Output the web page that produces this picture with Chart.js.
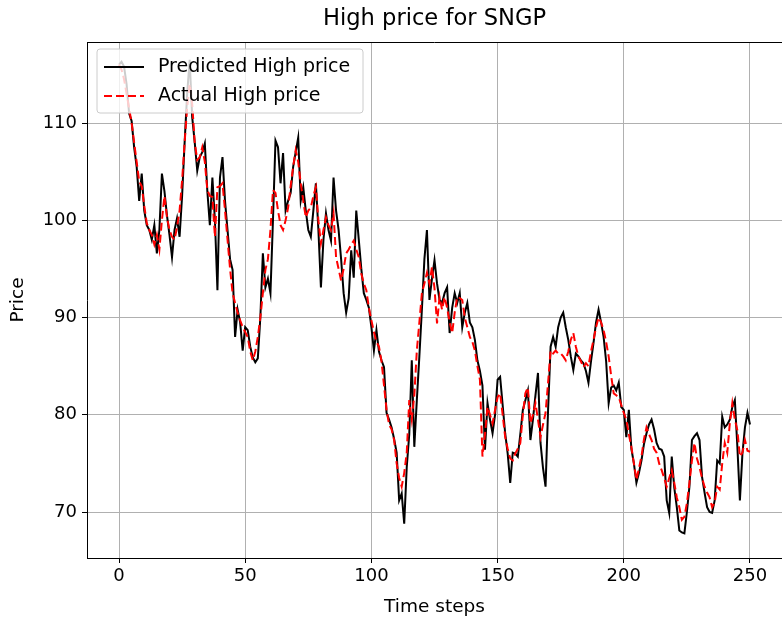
<!DOCTYPE html>
<html>
<head>
<meta charset="utf-8">
<script src="https://cdn.jsdelivr.net/npm/chart.js@4.4.1/dist/chart.umd.min.js"></script>
<style>
  html, body { margin: 0; padding: 0; background: #fff; }
  #wrap { width: 782px; height: 620px; position: relative; }
</style>
</head>
<body>
<div id="wrap"><canvas id="chart"></canvas></div>
<script>
// ===== DATA =====
const predictedHigh = [
  116.0, 116.3, 115.8, 114.0, 111.0, 110.2, 107.5, 105.5, 102.0, 104.8,
  101.0, 99.5, 99.0, 98.0, 99.5, 96.6, 99.0, 104.8, 103.0, 100.5,
  98.5, 96.2, 99.0, 100.2, 98.3, 102.5, 108.0, 113.0, 116.5, 110.6,
  108.0, 105.1, 106.5, 107.0, 107.9, 103.0, 99.5, 104.4, 100.0, 92.8,
  104.4, 106.5, 102.0, 99.0, 96.0, 94.9, 88.0, 90.8, 89.5, 86.6,
  89.0, 88.7, 87.0, 85.9, 85.4, 85.8, 90.0, 96.6, 93.1, 94.0,
  92.5, 100.0, 108.2, 107.5, 103.8, 106.9, 101.0, 102.0, 102.8, 105.5,
  107.0, 108.5, 102.0, 103.4, 101.0, 99.0, 98.3, 101.0, 103.8, 99.0,
  93.1, 98.0, 100.7, 99.0, 97.9, 104.4, 101.0, 99.0, 96.0, 92.5,
  90.5, 92.0, 96.9, 94.1, 101.0, 98.0, 95.0, 92.5, 91.8, 91.0,
  89.0, 86.6, 88.7, 86.5, 85.6, 84.9, 80.2, 79.5, 78.7, 77.5,
  76.1, 71.2, 71.9, 68.8, 74.6, 78.0, 85.6, 76.7, 81.5, 86.0,
  90.8, 96.0, 99.0, 91.8, 94.0, 95.9, 93.5, 91.8, 91.5, 92.5,
  93.1, 88.4, 91.0, 92.5, 91.5, 92.5, 89.0, 90.5, 91.5, 89.5,
  89.0, 87.7, 85.6, 84.5, 83.0, 76.4, 81.2, 79.5, 78.1, 80.0,
  83.6, 83.9, 81.0, 78.1, 76.0, 73.0, 76.1, 76.0, 75.7, 78.0,
  80.5, 81.5, 82.5, 77.4, 79.5, 82.0, 84.3, 77.1, 74.5, 72.6,
  80.5, 87.0, 88.0, 87.0, 89.0, 90.0, 90.5, 89.0, 87.7, 86.0,
  84.6, 86.3, 86.0, 85.6, 85.3, 84.5, 83.3, 85.5, 87.4, 89.5,
  90.8, 89.5, 88.0, 85.5, 81.2, 82.8, 83.0, 82.5, 83.3, 80.8,
  80.5, 77.7, 80.5, 76.5, 75.0, 73.0, 74.0, 75.3, 77.0, 78.1,
  79.0, 79.5, 78.5, 77.1, 76.5, 76.4, 75.7, 71.2, 69.9, 75.7,
  72.5, 70.5, 68.1, 67.9, 67.8, 70.0, 72.6, 77.4, 77.8, 78.1,
  77.4, 73.6, 72.0, 70.5, 70.0, 69.9, 71.2, 75.3, 75.0, 79.8,
  78.7, 79.0, 79.5, 80.8, 81.5, 76.7, 71.2, 76.0, 78.7, 80.2,
  79.0
];

const actualHigh = [
  116.0, 115.5, 114.5, 113.0, 111.5, 110.0, 108.0, 106.0, 104.0, 103.5,
  101.5, 99.7, 99.0, 98.5, 97.5, 98.5, 97.0, 100.0, 102.5, 100.3,
  99.0, 98.3, 98.0, 99.3, 101.0, 104.1, 108.0, 111.6, 114.0, 112.0,
  108.0, 106.2, 106.5, 107.5, 106.0, 103.1, 102.5, 102.4, 98.3, 103.4,
  103.5, 103.8, 101.0, 98.0, 95.0, 92.5, 91.5, 90.5, 89.7, 89.0,
  88.5, 88.0, 86.5, 85.6, 86.5, 88.0, 90.0, 92.5, 94.9, 96.0,
  99.0, 103.1, 102.8, 101.0, 99.5, 99.0, 100.0, 101.3, 103.5, 105.5,
  107.2, 106.0, 103.8, 102.0, 100.3, 101.0, 101.3, 102.5, 103.4, 100.0,
  97.6, 99.0, 100.3, 99.5, 99.0, 100.7, 96.2, 95.0, 93.8, 95.0,
  96.6, 97.0, 97.5, 97.9, 97.0, 96.2, 94.5, 93.5, 92.8, 91.0,
  89.7, 88.5, 87.5, 87.0, 85.5, 83.0, 80.5, 79.0, 78.5, 77.4,
  75.0, 73.5, 72.6, 74.0, 76.1, 81.5, 79.5, 82.0, 86.6, 89.5,
  92.5, 93.5, 94.6, 93.5, 95.2, 93.0, 89.4, 92.1, 90.8, 92.1,
  91.0, 89.5, 88.4, 90.5, 92.1, 92.0, 91.8, 90.0, 89.0, 88.0,
  87.5, 86.6, 85.0, 83.6, 75.7, 78.0, 80.8, 80.0, 79.1, 80.5,
  81.8, 82.2, 80.0, 77.7, 76.5, 75.5, 75.3, 76.0, 76.5, 77.1,
  80.0, 82.2, 82.8, 79.1, 80.0, 81.2, 79.5, 77.7, 79.0, 80.2,
  83.3, 86.6, 86.3, 86.6, 86.3, 86.3, 86.0, 85.6, 86.5, 87.7,
  88.4, 87.0, 86.0, 85.5, 84.9, 85.3, 85.0, 86.5, 87.7, 89.0,
  90.0, 89.5, 88.7, 87.5, 86.0, 84.0, 82.2, 82.0, 81.8, 81.0,
  80.2, 79.5, 78.0, 76.7, 75.0, 73.3, 74.5, 75.7, 77.5, 78.7,
  78.0, 77.4, 76.5, 76.1, 75.0, 74.3, 73.5, 72.6, 73.5, 74.3,
  73.0, 71.5, 70.5, 69.2, 69.5, 70.9, 73.0, 75.3, 77.1, 75.5,
  74.6, 73.5, 72.6, 72.0, 71.5, 70.5, 71.0, 72.6, 72.3, 75.0,
  77.1, 76.1, 79.1, 81.2, 79.5, 78.4, 75.7, 76.1, 77.4, 76.3,
  76.2
];

const xTicks = [0, 50, 100, 150, 200, 250];
const yTicks = [70, 80, 90, 100, 110];

const chartTitle = 'High price for SNGP';
const seriesLabels = ['Predicted High price', 'Actual High price'];

// ===== HELPERS =====
const FONT = 'DejaVu Sans';

function toPoints(values) {
  return values.map((v, i) => ({ x: i, y: v }));
}

// top spine + title centred over the plot area (like matplotlib)
const framePlugin = {
  id: 'frame',
  afterDraw(chart) {
    const { ctx, chartArea: a } = chart;
    ctx.save();
    ctx.strokeStyle = '#000';
    ctx.lineWidth = 1;
    ctx.beginPath();
    ctx.moveTo(a.left, a.top + 0.5);
    ctx.lineTo(a.right, a.top + 0.5);
    ctx.stroke();

    ctx.fillStyle = '#000';
    ctx.font = '22.6px ' + FONT;
    ctx.textAlign = 'center';
    ctx.textBaseline = 'middle';
    ctx.fillText(chartTitle, (a.left + a.right) / 2, 19);
    ctx.restore();
  }
};

const boxLegendPlugin = {
  id: 'boxLegend',
  afterDraw(chart) {
    const { ctx, chartArea: a } = chart;
    const x = a.left + 10, y = a.top + 7, w = 266, h = 64;
    ctx.save();
    ctx.beginPath();
    ctx.roundRect(x, y, w, h, 3);
    ctx.fillStyle = 'rgba(255,255,255,0.8)';
    ctx.fill();
    ctx.strokeStyle = '#cccccc';
    ctx.lineWidth = 1;
    ctx.stroke();

    const rows = [
      { label: seriesLabels[0], color: '#000000', dash: [] },
      { label: seriesLabels[1], color: '#ff0000', dash: [8, 4] }
    ];
    ctx.font = '19px ' + FONT;
    ctx.textBaseline = 'middle';
    rows.forEach((r, i) => {
      const cy = y + 18 + i * 29;
      ctx.beginPath();
      ctx.setLineDash(r.dash);
      ctx.strokeStyle = r.color;
      ctx.lineWidth = 2;
      ctx.moveTo(x + 7, cy);
      ctx.lineTo(x + 47, cy);
      ctx.stroke();
      ctx.setLineDash([]);
      ctx.fillStyle = '#000';
      ctx.fillText(r.label, x + 61, cy);
    });
    ctx.restore();
  }
};

// ===== CHART =====
new Chart(document.getElementById('chart'), {
  type: 'line',
  data: {
    datasets: [{
      label: seriesLabels[0],
      data: toPoints(predictedHigh),
      borderColor: '#000000',
      borderWidth: 2,
      pointRadius: 0,
      tension: 0,
      fill: false,
      order: 1,
    }, {
      label: seriesLabels[1],
      data: toPoints(actualHigh),
      borderColor: '#ff0000',
      borderWidth: 2,
      borderDash: [8, 4],
      pointRadius: 0,
      tension: 0,
      fill: false,
      order: 0,
    }]
  },
  options: {
    responsive: true,
    maintainAspectRatio: false,
    animation: false,
    layout: { padding: { top: 42, left: 0, right: 0, bottom: 0 } },
    plugins: {
      legend: { display: false },
      tooltip: { enabled: false },
      title: { display: false }
    },
    scales: {
      x: {
        type: 'linear',
        min: -12.68,
        max: 262.68,
        afterBuildTicks(scale) { scale.ticks = xTicks.map(v => ({ value: v })); },
        afterFit(scale) { scale.height = 62; },
        ticks: {
          color: '#000',
          font: { family: FONT, size: 18 },
          padding: 3,
          maxRotation: 0,
          autoSkip: false,
        },
        grid: { color: '#b0b0b0', lineWidth: 1, tickColor: '#000', tickLength: 5 },
        border: { color: '#000', width: 1 },
        title: {
          display: true,
          text: 'Time steps',
          color: '#000',
          font: { family: FONT, size: 18.5 },
          padding: { top: 0, bottom: 2 }
        }
      },
      y: {
        type: 'linear',
        min: 65.27,
        max: 118.33,
        afterBuildTicks(scale) { scale.ticks = yTicks.map(v => ({ value: v })); },
        afterFit(scale) { scale.width = 87; },
        ticks: {
          color: '#000',
          font: { family: FONT, size: 18 },
          padding: 5,
          autoSkip: false,
        },
        grid: { color: '#b0b0b0', lineWidth: 1, tickColor: '#000', tickLength: 5 },
        border: { color: '#000', width: 1 },
        title: {
          display: true,
          text: 'Price',
          color: '#000',
          font: { family: FONT, size: 18.5 },
          padding: { top: 7, bottom: 0 }
        }
      }
    }
  },
  plugins: [framePlugin, boxLegendPlugin]
});
</script>
</body>
</html>
